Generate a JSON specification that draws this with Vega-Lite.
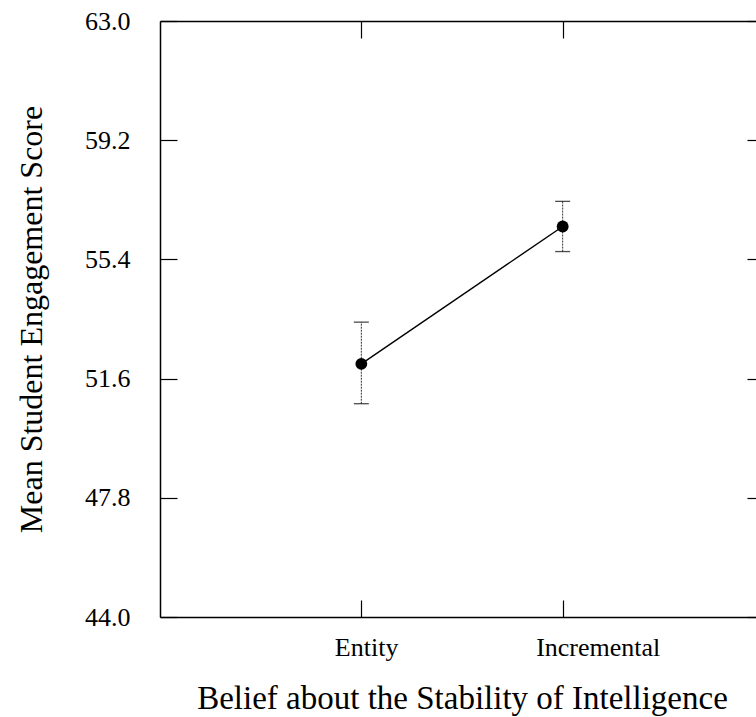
{
  "$schema": "https://vega.github.io/schema/vega-lite/v6.json",
  "autosize": "none",
  "padding": {"left": 160, "top": 21, "right": 0, "bottom": 100},
  "width": 604,
  "height": 596,
  "background": "white",
  "config": {
    "view": {"stroke": null},
    "font": "Liberation Serif",
    "axis": {
      "grid": false,
      "domainColor": "black",
      "domainWidth": 1.5,
      "tickColor": "black",
      "tickWidth": 1.2,
      "labelColor": "black",
      "titleColor": "black",
      "labelFont": "Liberation Serif",
      "titleFont": "Liberation Serif",
      "titleFontWeight": "normal"
    }
  },
  "data": {
    "values": [
      {"belief": "Entity", "mean": 52.07, "lo": 50.8, "hi": 53.4},
      {"belief": "Incremental", "mean": 56.45, "lo": 55.65, "hi": 57.25}
    ]
  },
  "resolve": {"axis": {"x": "independent", "y": "independent"}},
  "layer": [
    {
      "mark": {"type": "line", "color": "black", "strokeWidth": 1.4},
      "encoding": {
        "x": {
          "field": "belief", "type": "nominal",
          "scale": {"type": "point", "padding": 1},
          "axis": {
            "orient": "bottom", "title": "Belief about the Stability of Intelligence",
            "labelAngle": 0, "labelFontSize": 26, "titleFontSize": 33,
            "tickSize": -17, "labelPadding": 34, "labelAlign": "left", "labelOffset": -27,
            "titlePadding": 22
          }
        },
        "y": {
          "field": "mean", "type": "quantitative",
          "scale": {"domain": [44, 63], "nice": false, "zero": false},
          "axis": {
            "orient": "left", "title": "Mean Student Engagement Score",
            "values": [44, 47.8, 51.6, 55.4, 59.2, 63], "format": ".1f",
            "labelFontSize": 26, "titleFontSize": 32,
            "tickSize": -17, "labelPadding": 47, "titlePadding": 36
          }
        }
      }
    },
    {
      "mark": {"type": "rule", "color": "#333", "strokeWidth": 1, "strokeDash": [2, 1]},
      "encoding": {
        "x": {
          "field": "belief", "type": "nominal",
          "scale": {"type": "point", "padding": 1},
          "axis": {"orient": "top", "title": null, "labels": false, "tickSize": -17}
        },
        "y": {
          "field": "lo", "type": "quantitative",
          "scale": {"domain": [44, 63], "nice": false, "zero": false},
          "axis": {"orient": "right", "title": null, "labels": false, "values": [44, 47.8, 51.6, 55.4, 59.2, 63], "tickSize": -17}
        },
        "y2": {"field": "hi"}
      }
    },
    {
      "mark": {"type": "tick", "color": "black", "size": 15, "thickness": 1.3},
      "encoding": {
        "x": {"field": "belief", "type": "nominal", "scale": {"type": "point", "padding": 1}, "axis": null},
        "y": {"field": "lo", "type": "quantitative", "scale": {"domain": [44, 63], "nice": false, "zero": false}, "axis": null}
      }
    },
    {
      "mark": {"type": "tick", "color": "black", "size": 15, "thickness": 1.3},
      "encoding": {
        "x": {"field": "belief", "type": "nominal", "scale": {"type": "point", "padding": 1}, "axis": null},
        "y": {"field": "hi", "type": "quantitative", "scale": {"domain": [44, 63], "nice": false, "zero": false}, "axis": null}
      }
    },
    {
      "mark": {"type": "point", "filled": true, "color": "black", "size": 140, "opacity": 1},
      "encoding": {
        "x": {"field": "belief", "type": "nominal", "scale": {"type": "point", "padding": 1}, "axis": null},
        "y": {"field": "mean", "type": "quantitative", "scale": {"domain": [44, 63], "nice": false, "zero": false}, "axis": null}
      }
    }
  ]
}
